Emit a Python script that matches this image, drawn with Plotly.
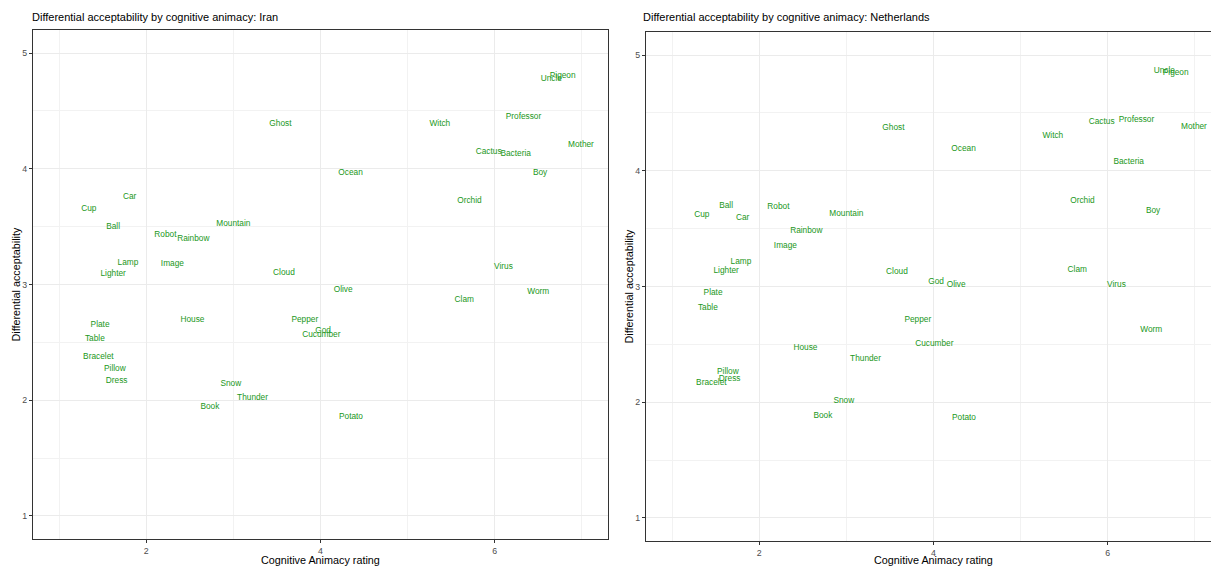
import plotly.graph_objects as go

# ---- data ----
words = ["Cup", "Car", "Ball", "Robot", "Rainbow", "Mountain", "Lamp", "Lighter", "Image", "Cloud",
         "Ghost", "Ocean", "Olive", "Witch", "Cactus", "Bacteria", "Professor", "Uncle", "Pigeon", "Mother",
         "Boy", "Orchid", "Virus", "Clam", "Worm", "Plate", "Table", "House", "Pepper", "God",
         "Cucumber", "Bracelet", "Pillow", "Dress", "Snow", "Thunder", "Book", "Potato"]

animacy = [1.34, 1.81, 1.62, 2.22, 2.54, 3.00, 1.79, 1.62, 2.30, 3.58,
           3.54, 4.345, 4.26, 5.37, 5.93, 6.24, 6.33, 6.65, 6.78, 6.99,
           6.52, 5.71, 6.10, 5.65, 6.50, 1.47, 1.41, 2.53, 3.82, 4.03,
           4.01, 1.45, 1.64, 1.66, 2.97, 3.22, 2.73, 4.35]

iran_accept = [3.65, 3.76, 3.50, 3.43, 3.39, 3.52, 3.19, 3.09, 3.175, 3.10,
               4.385, 3.966, 2.957, 4.39, 4.147, 4.13, 4.45, 4.776, 4.80, 4.21,
               3.963, 3.72, 3.15, 2.865, 2.934, 2.647, 2.53, 2.69, 2.69, 2.60,
               2.56, 2.37, 2.27, 2.17, 2.144, 2.02, 1.94, 1.856]

nl_accept = [3.62, 3.59, 3.70, 3.69, 3.48, 3.63, 3.21, 3.135, 3.35, 3.13,
             4.37, 4.185, 3.017, 4.30, 4.42, 4.08, 4.44, 4.86, 4.85, 4.38,
             3.65, 3.74, 3.015, 3.147, 2.626, 2.945, 2.816, 2.47, 2.71, 3.04,
             2.50, 2.163, 2.26, 2.20, 2.007, 2.378, 1.884, 1.86]

panel_titles = ["Differential acceptability by cognitive animacy: Iran",
                "Differential acceptability by cognitive animacy: Netherlands"]
x_title = "Cognitive Animacy rating"
y_title = "Differential acceptability"
x_ticks = [2, 4, 6]
x_minor = [1, 3, 5, 7]
y_ticks = [1, 2, 3, 4, 5]
y_minor = [1.5, 2.5, 3.5, 4.5]

W, H = 1211, 567
FONT = "Liberation Sans, Arial, sans-serif"
GREEN = "#1a971a"
LABEL_SIZE = 8.3

fig = go.Figure()
fig.add_trace(go.Scatter(x=animacy, y=iran_accept, text=words, mode="text",
                         textposition="middle center",
                         textfont=dict(family=FONT, size=LABEL_SIZE, color=GREEN),
                         xaxis="x", yaxis="y", showlegend=False, cliponaxis=False,
                         hoverinfo="skip"))
fig.add_trace(go.Scatter(x=animacy, y=nl_accept, text=words, mode="text",
                         textposition="middle center",
                         textfont=dict(family=FONT, size=LABEL_SIZE, color=GREEN),
                         xaxis="x2", yaxis="y2", showlegend=False, cliponaxis=True,
                         hoverinfo="skip"))

def xax(domain, rng, anchor):
    return dict(domain=domain, range=rng, anchor=anchor, tickvals=x_ticks,
                showgrid=True, gridcolor="#EBEBEB", gridwidth=1,
                minor=dict(tickvals=x_minor, showgrid=True, gridcolor="#F2F2F2", gridwidth=0.6, ticks=""),
                showline=True, linecolor="#333333", linewidth=1, mirror=True,
                ticks="outside", ticklen=3, tickcolor="#333333", tickwidth=1,
                tickfont=dict(family=FONT, size=8.8, color="#4D4D4D"), zeroline=False)

def yax(domain, anchor, mirror):
    return dict(domain=domain, range=[0.8, 5.2], anchor=anchor, tickvals=y_ticks,
                showgrid=True, gridcolor="#EBEBEB", gridwidth=1,
                minor=dict(tickvals=y_minor, showgrid=True, gridcolor="#F2F2F2", gridwidth=0.6, ticks=""),
                showline=True, linecolor="#333333", linewidth=1, mirror=mirror,
                ticks="outside", ticklen=3, tickcolor="#333333", tickwidth=1,
                tickfont=dict(family=FONT, size=8.8, color="#4D4D4D"), zeroline=False)

# panel pixel boxes (left, right, top, bottom)
L = (33, 608, 30, 539)
R = (646, 1211, 32, 541)
unit = (608 - 33) / 6.6
r_max = 0.7 + (1211 - 646) / unit

fig.update_layout(
    width=W, height=H, autosize=False,
    margin=dict(l=0, r=0, t=0, b=0),
    paper_bgcolor="white", plot_bgcolor="white",
    xaxis=xax([L[0] / W, L[1] / W], [0.7, 7.3], "y"),
    yaxis=yax([1 - L[3] / H, 1 - L[2] / H], "x", True),
    xaxis2=xax([R[0] / W, 1.0], [0.7, r_max], "y2"),
    yaxis2=yax([1 - R[3] / H, 1 - R[2] / H], "x2", False),
    font=dict(family=FONT),
    hovermode=False,
)

ann = []
for tx, title in zip([30, 641], panel_titles):
    ann.append(dict(text=title, x=tx / W, y=1 - 17 / H, xref="paper", yref="paper",
                    xanchor="left", yanchor="middle", showarrow=False,
                    font=dict(family=FONT, size=11, color="black")))
for cx in [(L[0] + L[1]) / 2, (646 + 1221) / 2]:
    ann.append(dict(text=x_title, x=cx / W, y=1 - 560 / H, xref="paper", yref="paper",
                    xanchor="center", yanchor="middle", showarrow=False,
                    font=dict(family=FONT, size=10.8, color="black")))
for cx, (t, b) in zip([15, 628], [(L[2], L[3]), (R[2], R[3])]):
    ann.append(dict(text=y_title, x=cx / W, y=1 - (t + b) / 2 / H, xref="paper", yref="paper",
                    xanchor="center", yanchor="middle", showarrow=False, textangle=-90,
                    font=dict(family=FONT, size=10.8, color="black")))
fig.update_layout(annotations=ann)

fig.write_html("out.html", config={"displayModeBar": False},
               post_script="document.body.style.margin='0';document.body.style.overflow='hidden';")
